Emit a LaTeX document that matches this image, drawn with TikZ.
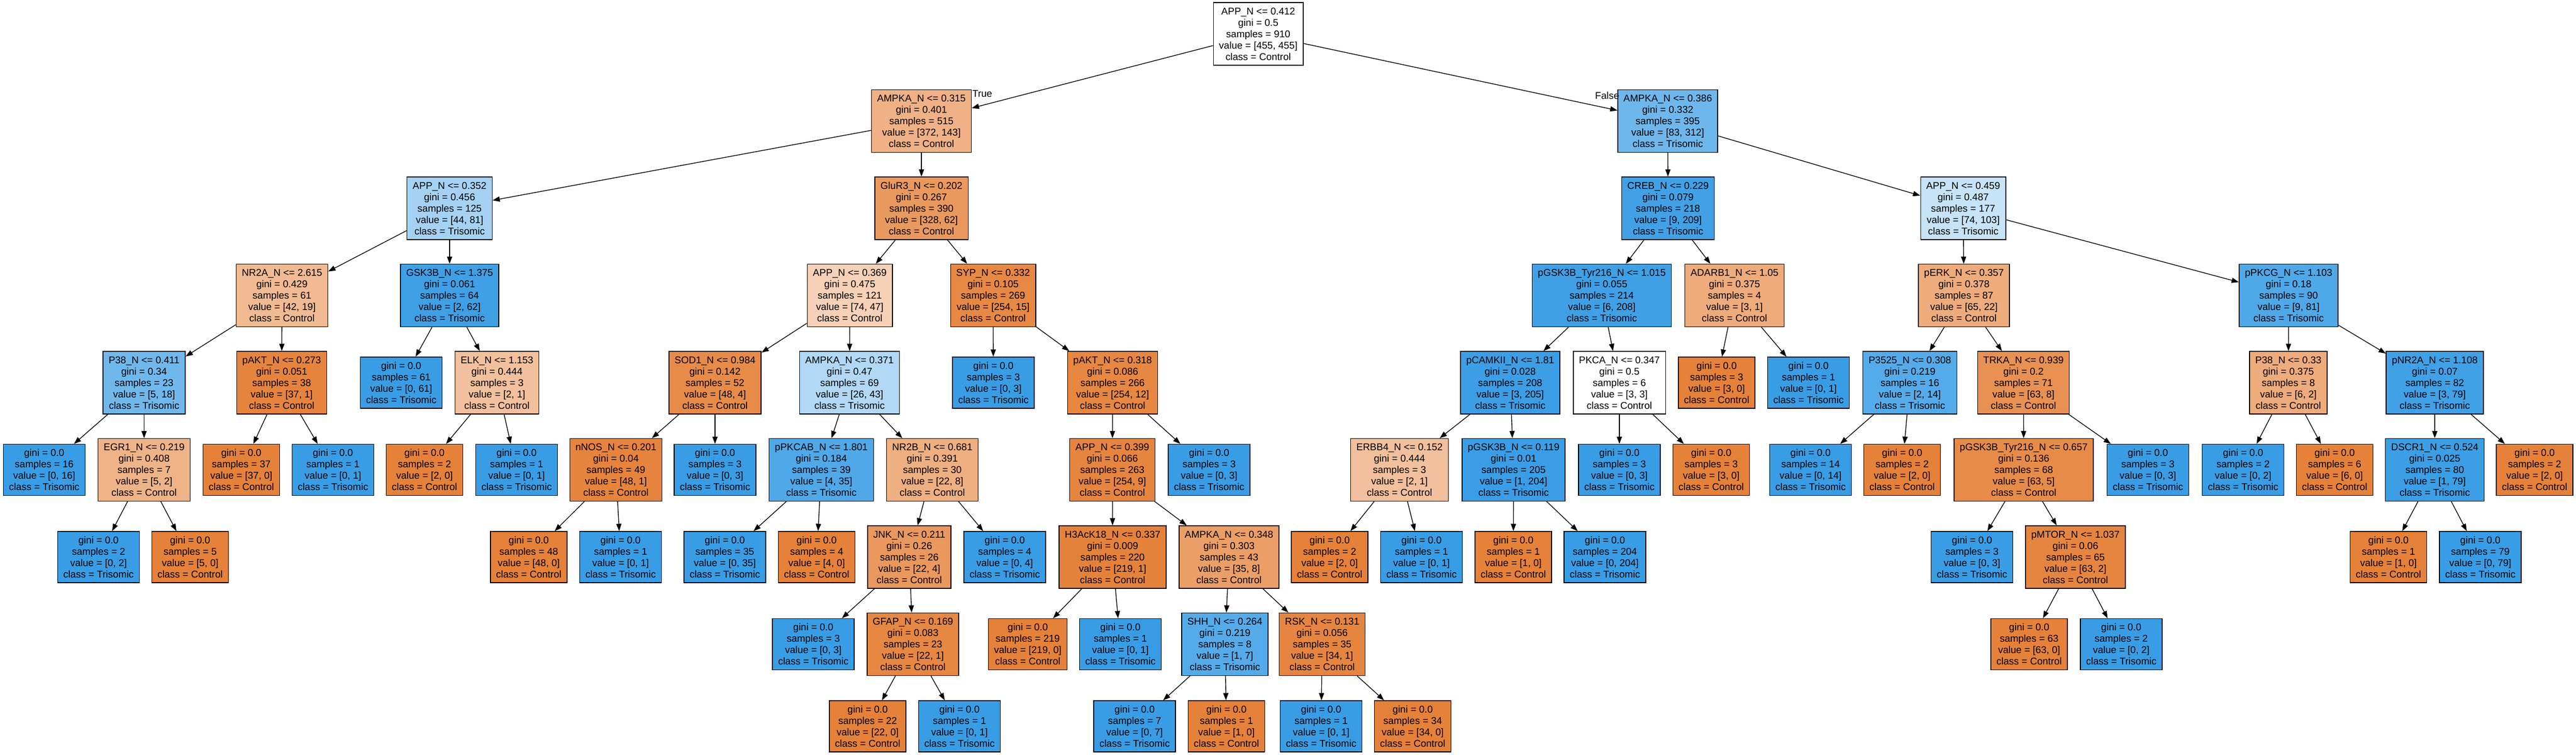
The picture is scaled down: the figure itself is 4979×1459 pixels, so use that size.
\documentclass[tikz,border=0pt]{standalone}
\usepackage{fontspec}
\setmainfont{Liberation Sans}
\usetikzlibrary{arrows.meta}
\definecolor{ctl}{HTML}{E58139}
\definecolor{tri}{HTML}{399DE5}
\tikzset{
  tnode/.style={draw=black, line width=0.7pt, rectangle, align=center,
    inner xsep=5.5pt, inner ysep=0pt, minimum height=60.5pt,
    font=\fontsize{9.5pt}{11pt}\selectfont},
  tleaf/.style={tnode, minimum height=49.5pt},
  tedge/.style={-{Triangle[length=7pt,width=5pt]}, line width=0.7pt},
  tlbl/.style={inner sep=0pt, font=\fontsize{9.5pt}{11pt}\selectfont}
}
\newcommand\Sp[9]{\node[tnode, fill=#9] (#1) at (#2,#3) {#4\\gini = #5\\samples = #6\\value = [#7]\\class = #8};}
\newcommand\LfC[4]{\node[tleaf, fill=ctl] (#1) at (#2,#3) {gini = 0.0\\samples = #4\\value = [#4, 0]\\class = Control};}
\newcommand\LfT[4]{\node[tleaf, fill=tri] (#1) at (#2,#3) {gini = 0.0\\samples = #4\\value = [0, #4]\\class = Trisomic};}
\begin{document}
\begin{tikzpicture}[x=0.5pt, y=-0.5pt]
\fill[white] (0,0) rectangle (4979,1459);
\useasboundingbox (0,0) rectangle (4979,1459);
% level 0-2
\Sp{n0}{2432}{65.5}{APP\_N <= 0.412}{0.5}{910}{455, 455}{Control}{white}
\Sp{n1}{1781}{234}{AMPKA\_N <= 0.315}{0.401}{515}{372, 143}{Control}{ctl!61.6!white}
\Sp{n2}{3223.5}{234}{AMPKA\_N <= 0.386}{0.332}{395}{83, 312}{Trisomic}{tri!73.4!white}
\Sp{b1}{869}{402.5}{APP\_N <= 0.352}{0.456}{125}{44, 81}{Trisomic}{tri!45.7!white}
\Sp{b2}{1781}{402.5}{GluR3\_N <= 0.202}{0.267}{390}{328, 62}{Control}{ctl!81.1!white}
\Sp{b3}{3224}{402.5}{CREB\_N <= 0.229}{0.079}{218}{9, 209}{Trisomic}{tri!95.7!white}
\Sp{b4}{3794.5}{402.5}{APP\_N <= 0.459}{0.487}{177}{74, 103}{Trisomic}{tri!28.2!white}
% level 3
\Sp{c1}{545}{571}{NR2A\_N <= 2.615}{0.429}{61}{42, 19}{Control}{ctl!54.8!white}
\Sp{c2}{869}{571}{GSK3B\_N <= 1.375}{0.061}{64}{2, 62}{Trisomic}{tri!96.8!white}
\Sp{c3}{1642.5}{571}{APP\_N <= 0.369}{0.475}{121}{74, 47}{Control}{ctl!36.5!white}
\Sp{c4}{1919.5}{571}{SYP\_N <= 0.332}{0.105}{269}{254, 15}{Control}{ctl!94.1!white}
\Sp{c5}{3096}{571}{pGSK3B\_Tyr216\_N <= 1.015}{0.055}{214}{6, 208}{Trisomic}{tri!97.1!white}
\Sp{c6}{3352.5}{571}{ADARB1\_N <= 1.05}{0.375}{4}{3, 1}{Control}{ctl!66.7!white}
\Sp{c7}{3796}{571}{pERK\_N <= 0.357}{0.378}{87}{65, 22}{Control}{ctl!66.2!white}
\Sp{c8}{4423.5}{571}{pPKCG\_N <= 1.103}{0.18}{90}{9, 81}{Trisomic}{tri!88.9!white}
% level 4
\Sp{d1}{278.5}{739.5}{P38\_N <= 0.411}{0.34}{23}{5, 18}{Trisomic}{tri!72.2!white}
\Sp{d2}{544.5}{739.5}{pAKT\_N <= 0.273}{0.051}{38}{37, 1}{Control}{ctl!97.3!white}
\LfT{d3}{775.5}{739.5}{61}
\Sp{d4}{960.5}{739.5}{ELK\_N <= 1.153}{0.444}{3}{2, 1}{Control}{ctl!50!white}
\Sp{d5}{1382}{739.5}{SOD1\_N <= 0.984}{0.142}{52}{48, 4}{Control}{ctl!91.7!white}
\Sp{d6}{1642}{739.5}{AMPKA\_N <= 0.371}{0.47}{69}{26, 43}{Trisomic}{tri!39.5!white}
\LfT{d7}{1920}{739.5}{3}
\Sp{d8}{2150.5}{739.5}{pAKT\_N <= 0.318}{0.086}{266}{254, 12}{Control}{ctl!95.3!white}
\Sp{d9}{2919}{739.5}{pCAMKII\_N <= 1.81}{0.028}{208}{3, 205}{Trisomic}{tri!98.5!white}
\Sp{d10}{3130}{739.5}{PKCA\_N <= 0.347}{0.5}{6}{3, 3}{Control}{white}
\LfC{d11}{3318}{739.5}{3}
\LfT{d12}{3495.5}{739.5}{1}
\Sp{d13}{3691.5}{739.5}{P3525\_N <= 0.308}{0.219}{16}{2, 14}{Trisomic}{tri!85.7!white}
\Sp{d14}{3911}{739.5}{TRKA\_N <= 0.939}{0.2}{71}{63, 8}{Control}{ctl!87.3!white}
\Sp{d15}{4423}{739.5}{P38\_N <= 0.33}{0.375}{8}{6, 2}{Control}{ctl!66.7!white}
\Sp{d16}{4706}{739.5}{pNR2A\_N <= 1.108}{0.07}{82}{3, 79}{Trisomic}{tri!96.2!white}
% level 5
\LfT{e1}{85.5}{908}{16}
\Sp{e2}{278.5}{908}{EGR1\_N <= 0.219}{0.408}{7}{5, 2}{Control}{ctl!60!white}
\LfC{e3}{466.5}{908}{37}
\LfT{e4}{643.5}{908}{1}
\LfC{e5}{820.5}{908}{2}
\LfT{e6}{998.5}{908}{1}
\Sp{e7}{1190.5}{908}{nNOS\_N <= 0.201}{0.04}{49}{48, 1}{Control}{ctl!97.9!white}
\LfT{e8}{1382}{908}{3}
\Sp{e9}{1587.5}{908}{pPKCAB\_N <= 1.801}{0.184}{39}{4, 35}{Trisomic}{tri!88.6!white}
\Sp{e10}{1802}{908}{NR2B\_N <= 0.681}{0.391}{30}{22, 8}{Control}{ctl!63.6!white}
\Sp{e11}{2150}{908}{APP\_N <= 0.399}{0.066}{263}{254, 9}{Control}{ctl!96.5!white}
\LfT{e12}{2337}{908}{3}
\Sp{e13}{2705}{908}{ERBB4\_N <= 0.152}{0.444}{3}{2, 1}{Control}{ctl!50!white}
\Sp{e14}{2925.5}{908}{pGSK3B\_N <= 0.119}{0.01}{205}{1, 204}{Trisomic}{tri!99.5!white}
\LfT{e15}{3130}{908}{3}
\LfC{e16}{3307.5}{908}{3}
\LfT{e17}{3499.5}{908}{14}
\LfC{e18}{3676.5}{908}{2}
\Sp{e19}{3911.5}{908}{pGSK3B\_Tyr216\_N <= 0.657}{0.136}{68}{63, 5}{Control}{ctl!92.1!white}
\LfT{e20}{4151.5}{908}{3}
\LfT{e21}{4335.5}{908}{2}
\LfC{e22}{4512.5}{908}{6}
\Sp{e23}{4706}{908}{DSCR1\_N <= 0.524}{0.025}{80}{1, 79}{Trisomic}{tri!98.7!white}
\LfC{e24}{4899}{908}{2}
% level 6
\LfT{f1}{190.5}{1076.5}{2}
\LfC{f2}{367.5}{1076.5}{5}
\LfC{f3}{1022}{1076.5}{48}
\LfT{f4}{1199.5}{1076.5}{1}
\LfT{f5}{1401}{1076.5}{35}
\LfC{f6}{1578.5}{1076.5}{4}
\Sp{f7}{1757.5}{1076.5}{JNK\_N <= 0.211}{0.26}{26}{22, 4}{Control}{ctl!81.8!white}
\LfT{f8}{1942}{1076.5}{4}
\Sp{f9}{2150.5}{1076.5}{H3AcK18\_N <= 0.337}{0.009}{220}{219, 1}{Control}{ctl!99.5!white}
\Sp{f10}{2375.5}{1076.5}{AMPKA\_N <= 0.348}{0.303}{43}{35, 8}{Control}{ctl!77.1!white}
\LfC{f11}{2570}{1076.5}{2}
\LfT{f12}{2747.5}{1076.5}{1}
\LfC{f13}{2925}{1076.5}{1}
\LfT{f14}{3102}{1076.5}{204}
\LfT{f15}{3811.5}{1076.5}{3}
\Sp{f16}{4011.5}{1076.5}{pMTOR\_N <= 1.037}{0.06}{65}{63, 2}{Control}{ctl!96.8!white}
\LfC{f17}{4616.5}{1076.5}{1}
\LfT{f18}{4794}{1076.5}{79}
% level 7
\LfT{g1}{1572}{1245}{3}
\Sp{g2}{1764.5}{1245}{GFAP\_N <= 0.169}{0.083}{23}{22, 1}{Control}{ctl!95.5!white}
\LfC{g3}{1986.5}{1245}{219}
\LfT{g4}{2165.5}{1245}{1}
\Sp{g5}{2367.5}{1245}{SHH\_N <= 0.264}{0.219}{8}{1, 7}{Trisomic}{tri!85.7!white}
\Sp{g6}{2555.5}{1245}{RSK\_N <= 0.131}{0.056}{35}{34, 1}{Control}{ctl!97.1!white}
\LfC{g7}{3922}{1245}{63}
\LfT{g8}{4100}{1245}{2}
% level 8
\LfC{h1}{1677}{1403.5}{22}
\LfT{h2}{1854.5}{1403.5}{1}
\LfT{h3}{2193}{1403.5}{7}
\LfC{h4}{2370.5}{1403.5}{1}
\LfT{h5}{2553.5}{1403.5}{1}
\LfC{h6}{2730.5}{1403.5}{34}
% edges
\foreach \a/\b in {n0/n1,n0/n2,n1/b1,n1/b2,n2/b3,n2/b4,
  b1/c1,b1/c2,b2/c3,b2/c4,b3/c5,b3/c6,b4/c7,b4/c8,
  c1/d1,c1/d2,c2/d3,c2/d4,c3/d5,c3/d6,c4/d7,c4/d8,c5/d9,c5/d10,c6/d11,c6/d12,c7/d13,c7/d14,c8/d15,c8/d16,
  d1/e1,d1/e2,d2/e3,d2/e4,d4/e5,d4/e6,d5/e7,d5/e8,d6/e9,d6/e10,d8/e11,d8/e12,d9/e13,d9/e14,d10/e15,d10/e16,d13/e17,d13/e18,d14/e19,d14/e20,d15/e21,d15/e22,d16/e23,d16/e24,
  e2/f1,e2/f2,e7/f3,e7/f4,e9/f5,e9/f6,e10/f7,e10/f8,e11/f9,e11/f10,e13/f11,e13/f12,e14/f13,e14/f14,e19/f15,e19/f16,e23/f17,e23/f18,
  f7/g1,f7/g2,f9/g3,f9/g4,f10/g5,f10/g6,f16/g7,f16/g8,
  g2/h1,g2/h2,g5/h3,g5/h4,g6/h5,g6/h6}
  \draw[tedge] (\a) -- (\b);
% branch labels
\node[tlbl, anchor=west] (lblT) at (1879,181) {True};
\node[tlbl, anchor=east] (lblF) at (3130,185) {False};
\end{tikzpicture}
\end{document}
